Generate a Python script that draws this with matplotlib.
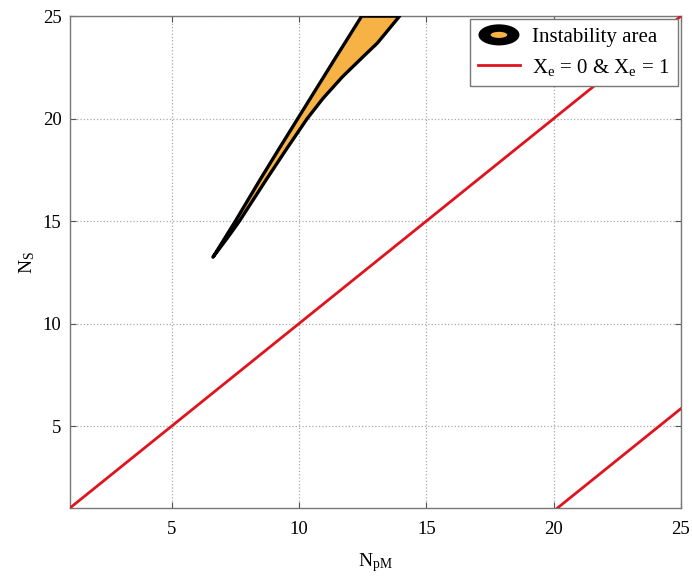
import matplotlib
matplotlib.use("Agg")
import matplotlib.pyplot as plt
from matplotlib.patches import Ellipse
from matplotlib.legend_handler import HandlerBase
from matplotlib.lines import Line2D

plt.rcParams['font.family'] = ['Liberation Serif', 'DejaVu Serif']
plt.rcParams['mathtext.fontset'] = 'custom'
plt.rcParams['mathtext.rm'] = 'Liberation Serif'
plt.rcParams['mathtext.it'] = 'Liberation Serif:italic'

# Instability area boundaries (N_pM, N_S)
upper_y = [13.24, 14.2, 15.0, 17.0, 18.5, 20.0, 21.0, 22.06, 23.0, 23.69, 25.0]
upper_x = [6.62, 7.1, 7.5, 8.46, 9.2, 9.95, 10.45, 10.98, 11.45, 11.8, 12.46]
lower_y = [13.24, 14.2, 15.0, 17.0, 18.5, 20.0, 21.0, 22.06, 23.0, 23.69, 25.0]
lower_x = [6.62, 7.2, 7.66, 8.7, 9.5, 10.32, 10.95, 11.72, 12.5, 13.08, 13.95]

# Xe = 0 & Xe = 1 lines
line1_x = [1, 25]
line1_y = [1, 25]
line2_x = [20.15, 25]
line2_y = [1, 5.85]

xticks = [5, 10, 15, 20, 25]
yticks = [5, 10, 15, 20, 25]

fig = plt.figure(figsize=(6.92, 5.76), dpi=100)
ax = fig.add_axes([0.101, 0.118, 0.883, 0.854])

poly_x = upper_x + lower_x[::-1]
poly_y = upper_y + lower_y[::-1]
ax.fill(poly_x, poly_y, facecolor='#F7B246', edgecolor='black',
        linewidth=2.4, joinstyle='round', zorder=3)

ax.plot(line1_x, line1_y, color='#E0141E', linewidth=2, zorder=3)
ax.plot(line2_x, line2_y, color='#E0141E', linewidth=2, zorder=3)

ax.set_xlim(1, 25)
ax.set_ylim(1, 25)
ax.set_xticks(xticks)
ax.set_yticks(yticks)
ax.tick_params(direction='in', labelsize=13.5, colors='#555555', length=4,
               top=True, right=True, labelcolor='black')
ax.tick_params(axis='x', pad=9)
ax.tick_params(axis='y', pad=6)
ax.grid(True, linestyle=':', color='#AAAAAA', linewidth=0.9)
for s in ax.spines.values():
    s.set_color('#777777')
    s.set_linewidth(1.0)

ax.set_xlabel(r'N$_\mathrm{pM}$', fontsize=14, labelpad=10)
ax.set_ylabel(r'N$_\mathrm{S}$', fontsize=14, labelpad=4)


class EllipseHandler(HandlerBase):
    def create_artists(self, legend, orig_handle, xdescent, ydescent, width, height, fontsize, trans):
        cx = width / 2 - xdescent
        cy = height / 2 - ydescent
        outer = Ellipse((cx, cy), width * 0.95, height * 1.35, facecolor='black',
                        edgecolor='black', transform=trans)
        inner = Ellipse((cx, cy), width * 0.4, height * 0.42, facecolor='#F7B246',
                        edgecolor='none', transform=trans)
        return [outer, inner]


class AreaHandle:
    pass


area_handle = AreaHandle()
line_handle = Line2D([], [], color='#E0141E', linewidth=2)
leg = ax.legend([area_handle, line_handle],
                ['Instability area', r'X$_\mathrm{e}$ = 0 & X$_\mathrm{e}$ = 1'],
                handler_map={AreaHandle: EllipseHandler()},
                loc='upper right', fontsize=15, fancybox=False, framealpha=1,
                edgecolor='#777777', borderaxespad=0.15, handlelength=2.0,
                handletextpad=0.6, labelspacing=0.45, borderpad=0.4)
leg.get_frame().set_linewidth(1.0)
leg.set_zorder(5)

fig.savefig('out.png', dpi=100)
